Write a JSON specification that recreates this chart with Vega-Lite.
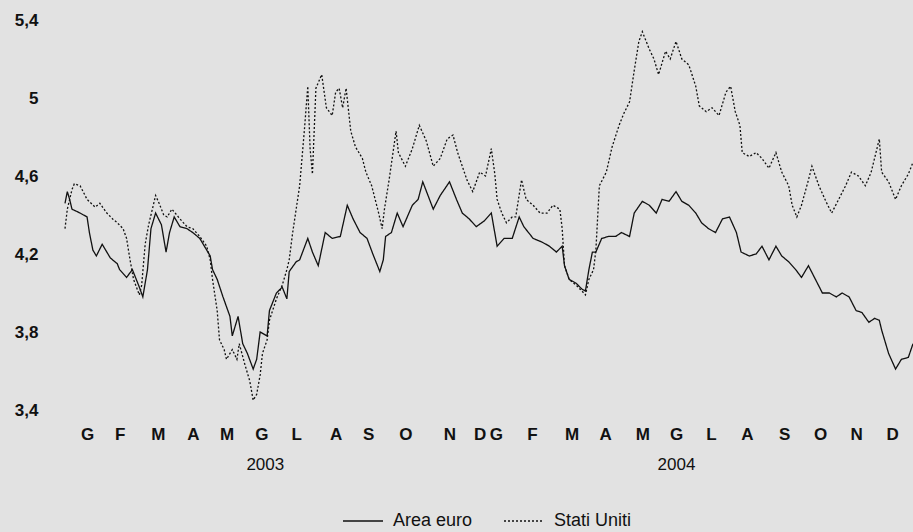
{
"$schema": "https://vega.github.io/schema/vega-lite/v6.json",
"width": 848, "height": 390,
"autosize": {"type": "none"},
"padding": {"left": 65, "top": 20, "right": 0, "bottom": 122},
"background": "#e2e2e2",
"config": {"view": {"stroke": null}, "font": "Liberation Sans"},
"data": {"values": [
{"date":"2003-01-01","series":"Area euro","yield":4.46},{"date":"2003-01-03","series":"Area euro","yield":4.52},{"date":"2003-01-05","series":"Area euro","yield":4.48},{"date":"2003-01-07","series":"Area euro","yield":4.43},{"date":"2003-01-14","series":"Area euro","yield":4.41},{"date":"2003-01-20","series":"Area euro","yield":4.39},{"date":"2003-01-22","series":"Area euro","yield":4.31},{"date":"2003-01-25","series":"Area euro","yield":4.22},{"date":"2003-01-28","series":"Area euro","yield":4.19},{"date":"2003-02-02","series":"Area euro","yield":4.25},{"date":"2003-02-05","series":"Area euro","yield":4.22},{"date":"2003-02-09","series":"Area euro","yield":4.18},{"date":"2003-02-15","series":"Area euro","yield":4.15},{"date":"2003-02-17","series":"Area euro","yield":4.12},{"date":"2003-02-23","series":"Area euro","yield":4.08},{"date":"2003-02-28","series":"Area euro","yield":4.12},{"date":"2003-03-06","series":"Area euro","yield":4.03},{"date":"2003-03-09","series":"Area euro","yield":3.98},{"date":"2003-03-13","series":"Area euro","yield":4.12},{"date":"2003-03-16","series":"Area euro","yield":4.33},{"date":"2003-03-20","series":"Area euro","yield":4.41},{"date":"2003-03-25","series":"Area euro","yield":4.35},{"date":"2003-03-29","series":"Area euro","yield":4.21},{"date":"2003-04-01","series":"Area euro","yield":4.31},{"date":"2003-04-05","series":"Area euro","yield":4.39},{"date":"2003-04-10","series":"Area euro","yield":4.34},{"date":"2003-04-16","series":"Area euro","yield":4.33},{"date":"2003-04-21","series":"Area euro","yield":4.31},{"date":"2003-04-27","series":"Area euro","yield":4.28},{"date":"2003-05-03","series":"Area euro","yield":4.22},{"date":"2003-05-06","series":"Area euro","yield":4.19},{"date":"2003-05-08","series":"Area euro","yield":4.12},{"date":"2003-05-12","series":"Area euro","yield":4.07},{"date":"2003-05-17","series":"Area euro","yield":3.98},{"date":"2003-05-23","series":"Area euro","yield":3.88},{"date":"2003-05-25","series":"Area euro","yield":3.78},{"date":"2003-05-30","series":"Area euro","yield":3.88},{"date":"2003-06-03","series":"Area euro","yield":3.74},{"date":"2003-06-07","series":"Area euro","yield":3.69},{"date":"2003-06-12","series":"Area euro","yield":3.61},{"date":"2003-06-15","series":"Area euro","yield":3.66},{"date":"2003-06-18","series":"Area euro","yield":3.80},{"date":"2003-06-24","series":"Area euro","yield":3.78},{"date":"2003-06-26","series":"Area euro","yield":3.91},{"date":"2003-07-02","series":"Area euro","yield":4.00},{"date":"2003-07-07","series":"Area euro","yield":4.03},{"date":"2003-07-11","series":"Area euro","yield":3.97},{"date":"2003-07-13","series":"Area euro","yield":4.11},{"date":"2003-07-19","series":"Area euro","yield":4.16},{"date":"2003-07-22","series":"Area euro","yield":4.17},{"date":"2003-07-29","series":"Area euro","yield":4.28},{"date":"2003-08-02","series":"Area euro","yield":4.21},{"date":"2003-08-07","series":"Area euro","yield":4.14},{"date":"2003-08-13","series":"Area euro","yield":4.31},{"date":"2003-08-19","series":"Area euro","yield":4.28},{"date":"2003-08-26","series":"Area euro","yield":4.29},{"date":"2003-09-01","series":"Area euro","yield":4.45},{"date":"2003-09-06","series":"Area euro","yield":4.38},{"date":"2003-09-12","series":"Area euro","yield":4.31},{"date":"2003-09-18","series":"Area euro","yield":4.28},{"date":"2003-09-23","series":"Area euro","yield":4.20},{"date":"2003-09-29","series":"Area euro","yield":4.11},{"date":"2003-10-02","series":"Area euro","yield":4.17},{"date":"2003-10-04","series":"Area euro","yield":4.29},{"date":"2003-10-09","series":"Area euro","yield":4.31},{"date":"2003-10-14","series":"Area euro","yield":4.41},{"date":"2003-10-19","series":"Area euro","yield":4.34},{"date":"2003-10-27","series":"Area euro","yield":4.45},{"date":"2003-11-01","series":"Area euro","yield":4.48},{"date":"2003-11-05","series":"Area euro","yield":4.57},{"date":"2003-11-14","series":"Area euro","yield":4.43},{"date":"2003-11-20","series":"Area euro","yield":4.50},{"date":"2003-11-28","series":"Area euro","yield":4.57},{"date":"2003-12-04","series":"Area euro","yield":4.48},{"date":"2003-12-09","series":"Area euro","yield":4.41},{"date":"2003-12-15","series":"Area euro","yield":4.38},{"date":"2003-12-21","series":"Area euro","yield":4.34},{"date":"2003-12-28","series":"Area euro","yield":4.37},{"date":"2004-01-03","series":"Area euro","yield":4.41},{"date":"2004-01-08","series":"Area euro","yield":4.24},{"date":"2004-01-14","series":"Area euro","yield":4.28},{"date":"2004-01-21","series":"Area euro","yield":4.28},{"date":"2004-01-27","series":"Area euro","yield":4.39},{"date":"2004-01-31","series":"Area euro","yield":4.34},{"date":"2004-02-08","series":"Area euro","yield":4.28},{"date":"2004-02-16","series":"Area euro","yield":4.26},{"date":"2004-02-22","series":"Area euro","yield":4.24},{"date":"2004-02-28","series":"Area euro","yield":4.21},{"date":"2004-03-04","series":"Area euro","yield":4.24},{"date":"2004-03-06","series":"Area euro","yield":4.14},{"date":"2004-03-10","series":"Area euro","yield":4.07},{"date":"2004-03-16","series":"Area euro","yield":4.05},{"date":"2004-03-21","series":"Area euro","yield":4.02},{"date":"2004-03-24","series":"Area euro","yield":4.01},{"date":"2004-03-27","series":"Area euro","yield":4.12},{"date":"2004-03-30","series":"Area euro","yield":4.21},{"date":"2004-04-02","series":"Area euro","yield":4.21},{"date":"2004-04-07","series":"Area euro","yield":4.28},{"date":"2004-04-13","series":"Area euro","yield":4.29},{"date":"2004-04-19","series":"Area euro","yield":4.29},{"date":"2004-04-24","series":"Area euro","yield":4.31},{"date":"2004-05-01","series":"Area euro","yield":4.29},{"date":"2004-05-05","series":"Area euro","yield":4.41},{"date":"2004-05-12","series":"Area euro","yield":4.47},{"date":"2004-05-18","series":"Area euro","yield":4.45},{"date":"2004-05-24","series":"Area euro","yield":4.41},{"date":"2004-05-29","series":"Area euro","yield":4.48},{"date":"2004-06-04","series":"Area euro","yield":4.47},{"date":"2004-06-10","series":"Area euro","yield":4.52},{"date":"2004-06-15","series":"Area euro","yield":4.47},{"date":"2004-06-21","series":"Area euro","yield":4.45},{"date":"2004-06-27","series":"Area euro","yield":4.41},{"date":"2004-07-02","series":"Area euro","yield":4.36},{"date":"2004-07-08","series":"Area euro","yield":4.33},{"date":"2004-07-14","series":"Area euro","yield":4.31},{"date":"2004-07-20","series":"Area euro","yield":4.38},{"date":"2004-07-26","series":"Area euro","yield":4.39},{"date":"2004-08-01","series":"Area euro","yield":4.31},{"date":"2004-08-05","series":"Area euro","yield":4.21},{"date":"2004-08-12","series":"Area euro","yield":4.19},{"date":"2004-08-18","series":"Area euro","yield":4.20},{"date":"2004-08-23","series":"Area euro","yield":4.24},{"date":"2004-08-29","series":"Area euro","yield":4.17},{"date":"2004-09-04","series":"Area euro","yield":4.24},{"date":"2004-09-09","series":"Area euro","yield":4.19},{"date":"2004-09-15","series":"Area euro","yield":4.16},{"date":"2004-09-21","series":"Area euro","yield":4.12},{"date":"2004-09-26","series":"Area euro","yield":4.08},{"date":"2004-10-02","series":"Area euro","yield":4.14},{"date":"2004-10-08","series":"Area euro","yield":4.07},{"date":"2004-10-14","series":"Area euro","yield":4.00},{"date":"2004-10-20","series":"Area euro","yield":4.00},{"date":"2004-10-26","series":"Area euro","yield":3.98},{"date":"2004-10-31","series":"Area euro","yield":4.00},{"date":"2004-11-06","series":"Area euro","yield":3.98},{"date":"2004-11-12","series":"Area euro","yield":3.91},{"date":"2004-11-17","series":"Area euro","yield":3.90},{"date":"2004-11-23","series":"Area euro","yield":3.85},{"date":"2004-11-28","series":"Area euro","yield":3.87},{"date":"2004-12-02","series":"Area euro","yield":3.86},{"date":"2004-12-04","series":"Area euro","yield":3.81},{"date":"2004-12-10","series":"Area euro","yield":3.69},{"date":"2004-12-16","series":"Area euro","yield":3.61},{"date":"2004-12-21","series":"Area euro","yield":3.66},{"date":"2004-12-27","series":"Area euro","yield":3.67},{"date":"2004-12-31","series":"Area euro","yield":3.74},
{"date":"2003-01-01","series":"Stati Uniti","yield":4.33},{"date":"2003-01-03","series":"Stati Uniti","yield":4.43},{"date":"2003-01-07","series":"Stati Uniti","yield":4.53},{"date":"2003-01-09","series":"Stati Uniti","yield":4.56},{"date":"2003-01-14","series":"Stati Uniti","yield":4.55},{"date":"2003-01-20","series":"Stati Uniti","yield":4.48},{"date":"2003-01-27","series":"Stati Uniti","yield":4.44},{"date":"2003-01-31","series":"Stati Uniti","yield":4.46},{"date":"2003-02-06","series":"Stati Uniti","yield":4.41},{"date":"2003-02-11","series":"Stati Uniti","yield":4.38},{"date":"2003-02-15","series":"Stati Uniti","yield":4.36},{"date":"2003-02-20","series":"Stati Uniti","yield":4.33},{"date":"2003-02-23","series":"Stati Uniti","yield":4.28},{"date":"2003-02-26","series":"Stati Uniti","yield":4.17},{"date":"2003-03-01","series":"Stati Uniti","yield":4.07},{"date":"2003-03-06","series":"Stati Uniti","yield":3.99},{"date":"2003-03-08","series":"Stati Uniti","yield":4.04},{"date":"2003-03-11","series":"Stati Uniti","yield":4.25},{"date":"2003-03-14","series":"Stati Uniti","yield":4.35},{"date":"2003-03-20","series":"Stati Uniti","yield":4.50},{"date":"2003-03-23","series":"Stati Uniti","yield":4.46},{"date":"2003-03-27","series":"Stati Uniti","yield":4.40},{"date":"2003-03-30","series":"Stati Uniti","yield":4.39},{"date":"2003-04-03","series":"Stati Uniti","yield":4.43},{"date":"2003-04-10","series":"Stati Uniti","yield":4.38},{"date":"2003-04-16","series":"Stati Uniti","yield":4.34},{"date":"2003-04-21","series":"Stati Uniti","yield":4.33},{"date":"2003-04-27","series":"Stati Uniti","yield":4.29},{"date":"2003-05-03","series":"Stati Uniti","yield":4.24},{"date":"2003-05-06","series":"Stati Uniti","yield":4.17},{"date":"2003-05-08","series":"Stati Uniti","yield":4.07},{"date":"2003-05-12","series":"Stati Uniti","yield":3.91},{"date":"2003-05-14","series":"Stati Uniti","yield":3.76},{"date":"2003-05-18","series":"Stati Uniti","yield":3.71},{"date":"2003-05-20","series":"Stati Uniti","yield":3.66},{"date":"2003-05-25","series":"Stati Uniti","yield":3.71},{"date":"2003-05-29","series":"Stati Uniti","yield":3.66},{"date":"2003-05-31","series":"Stati Uniti","yield":3.74},{"date":"2003-06-05","series":"Stati Uniti","yield":3.63},{"date":"2003-06-09","series":"Stati Uniti","yield":3.55},{"date":"2003-06-12","series":"Stati Uniti","yield":3.45},{"date":"2003-06-15","series":"Stati Uniti","yield":3.48},{"date":"2003-06-18","series":"Stati Uniti","yield":3.58},{"date":"2003-06-20","series":"Stati Uniti","yield":3.69},{"date":"2003-06-24","series":"Stati Uniti","yield":3.76},{"date":"2003-06-26","series":"Stati Uniti","yield":3.86},{"date":"2003-07-02","series":"Stati Uniti","yield":3.97},{"date":"2003-07-07","series":"Stati Uniti","yield":4.04},{"date":"2003-07-11","series":"Stati Uniti","yield":4.12},{"date":"2003-07-13","series":"Stati Uniti","yield":4.17},{"date":"2003-07-16","series":"Stati Uniti","yield":4.31},{"date":"2003-07-19","series":"Stati Uniti","yield":4.43},{"date":"2003-07-22","series":"Stati Uniti","yield":4.55},{"date":"2003-07-26","series":"Stati Uniti","yield":4.83},{"date":"2003-07-29","series":"Stati Uniti","yield":5.06},{"date":"2003-07-31","series":"Stati Uniti","yield":4.74},{"date":"2003-08-02","series":"Stati Uniti","yield":4.61},{"date":"2003-08-05","series":"Stati Uniti","yield":5.05},{"date":"2003-08-10","series":"Stati Uniti","yield":5.12},{"date":"2003-08-14","series":"Stati Uniti","yield":4.95},{"date":"2003-08-19","series":"Stati Uniti","yield":4.91},{"date":"2003-08-22","series":"Stati Uniti","yield":5.03},{"date":"2003-08-25","series":"Stati Uniti","yield":5.05},{"date":"2003-08-28","series":"Stati Uniti","yield":4.95},{"date":"2003-08-31","series":"Stati Uniti","yield":5.05},{"date":"2003-09-04","series":"Stati Uniti","yield":4.83},{"date":"2003-09-08","series":"Stati Uniti","yield":4.75},{"date":"2003-09-14","series":"Stati Uniti","yield":4.69},{"date":"2003-09-17","series":"Stati Uniti","yield":4.62},{"date":"2003-09-22","series":"Stati Uniti","yield":4.55},{"date":"2003-09-28","series":"Stati Uniti","yield":4.41},{"date":"2003-10-01","series":"Stati Uniti","yield":4.33},{"date":"2003-10-03","series":"Stati Uniti","yield":4.43},{"date":"2003-10-07","series":"Stati Uniti","yield":4.58},{"date":"2003-10-13","series":"Stati Uniti","yield":4.83},{"date":"2003-10-15","series":"Stati Uniti","yield":4.72},{"date":"2003-10-21","series":"Stati Uniti","yield":4.65},{"date":"2003-10-27","series":"Stati Uniti","yield":4.74},{"date":"2003-11-02","series":"Stati Uniti","yield":4.86},{"date":"2003-11-08","series":"Stati Uniti","yield":4.78},{"date":"2003-11-14","series":"Stati Uniti","yield":4.65},{"date":"2003-11-20","series":"Stati Uniti","yield":4.69},{"date":"2003-11-26","series":"Stati Uniti","yield":4.79},{"date":"2003-12-01","series":"Stati Uniti","yield":4.81},{"date":"2003-12-05","series":"Stati Uniti","yield":4.72},{"date":"2003-12-09","series":"Stati Uniti","yield":4.65},{"date":"2003-12-13","series":"Stati Uniti","yield":4.58},{"date":"2003-12-18","series":"Stati Uniti","yield":4.52},{"date":"2003-12-24","series":"Stati Uniti","yield":4.62},{"date":"2003-12-29","series":"Stati Uniti","yield":4.60},{"date":"2004-01-03","series":"Stati Uniti","yield":4.74},{"date":"2004-01-06","series":"Stati Uniti","yield":4.61},{"date":"2004-01-08","series":"Stati Uniti","yield":4.48},{"date":"2004-01-12","series":"Stati Uniti","yield":4.41},{"date":"2004-01-16","series":"Stati Uniti","yield":4.36},{"date":"2004-01-21","series":"Stati Uniti","yield":4.39},{"date":"2004-01-24","series":"Stati Uniti","yield":4.39},{"date":"2004-01-29","series":"Stati Uniti","yield":4.58},{"date":"2004-02-02","series":"Stati Uniti","yield":4.48},{"date":"2004-02-08","series":"Stati Uniti","yield":4.45},{"date":"2004-02-14","series":"Stati Uniti","yield":4.41},{"date":"2004-02-20","series":"Stati Uniti","yield":4.41},{"date":"2004-02-25","series":"Stati Uniti","yield":4.45},{"date":"2004-03-02","series":"Stati Uniti","yield":4.43},{"date":"2004-03-04","series":"Stati Uniti","yield":4.33},{"date":"2004-03-06","series":"Stati Uniti","yield":4.14},{"date":"2004-03-10","series":"Stati Uniti","yield":4.07},{"date":"2004-03-16","series":"Stati Uniti","yield":4.04},{"date":"2004-03-21","series":"Stati Uniti","yield":4.01},{"date":"2004-03-24","series":"Stati Uniti","yield":3.99},{"date":"2004-03-27","series":"Stati Uniti","yield":4.07},{"date":"2004-03-31","series":"Stati Uniti","yield":4.12},{"date":"2004-04-02","series":"Stati Uniti","yield":4.22},{"date":"2004-04-05","series":"Stati Uniti","yield":4.55},{"date":"2004-04-11","series":"Stati Uniti","yield":4.62},{"date":"2004-04-16","series":"Stati Uniti","yield":4.75},{"date":"2004-04-22","series":"Stati Uniti","yield":4.86},{"date":"2004-04-26","series":"Stati Uniti","yield":4.92},{"date":"2004-05-01","series":"Stati Uniti","yield":4.98},{"date":"2004-05-05","series":"Stati Uniti","yield":5.14},{"date":"2004-05-09","series":"Stati Uniti","yield":5.29},{"date":"2004-05-12","series":"Stati Uniti","yield":5.34},{"date":"2004-05-18","series":"Stati Uniti","yield":5.25},{"date":"2004-05-22","series":"Stati Uniti","yield":5.20},{"date":"2004-05-26","series":"Stati Uniti","yield":5.12},{"date":"2004-06-01","series":"Stati Uniti","yield":5.24},{"date":"2004-06-05","series":"Stati Uniti","yield":5.20},{"date":"2004-06-10","series":"Stati Uniti","yield":5.29},{"date":"2004-06-15","series":"Stati Uniti","yield":5.20},{"date":"2004-06-21","series":"Stati Uniti","yield":5.17},{"date":"2004-06-27","series":"Stati Uniti","yield":5.06},{"date":"2004-06-30","series":"Stati Uniti","yield":4.96},{"date":"2004-07-06","series":"Stati Uniti","yield":4.93},{"date":"2004-07-11","series":"Stati Uniti","yield":4.95},{"date":"2004-07-17","series":"Stati Uniti","yield":4.91},{"date":"2004-07-23","series":"Stati Uniti","yield":5.03},{"date":"2004-07-27","series":"Stati Uniti","yield":5.06},{"date":"2004-07-31","series":"Stati Uniti","yield":4.93},{"date":"2004-08-04","series":"Stati Uniti","yield":4.86},{"date":"2004-08-06","series":"Stati Uniti","yield":4.72},{"date":"2004-08-12","series":"Stati Uniti","yield":4.70},{"date":"2004-08-18","series":"Stati Uniti","yield":4.72},{"date":"2004-08-23","series":"Stati Uniti","yield":4.69},{"date":"2004-08-29","series":"Stati Uniti","yield":4.64},{"date":"2004-09-04","series":"Stati Uniti","yield":4.72},{"date":"2004-09-09","series":"Stati Uniti","yield":4.62},{"date":"2004-09-15","series":"Stati Uniti","yield":4.55},{"date":"2004-09-18","series":"Stati Uniti","yield":4.45},{"date":"2004-09-22","series":"Stati Uniti","yield":4.39},{"date":"2004-09-26","series":"Stati Uniti","yield":4.45},{"date":"2004-10-02","series":"Stati Uniti","yield":4.58},{"date":"2004-10-05","series":"Stati Uniti","yield":4.65},{"date":"2004-10-11","series":"Stati Uniti","yield":4.55},{"date":"2004-10-17","series":"Stati Uniti","yield":4.47},{"date":"2004-10-22","series":"Stati Uniti","yield":4.41},{"date":"2004-10-28","series":"Stati Uniti","yield":4.48},{"date":"2004-11-03","series":"Stati Uniti","yield":4.55},{"date":"2004-11-08","series":"Stati Uniti","yield":4.62},{"date":"2004-11-14","series":"Stati Uniti","yield":4.60},{"date":"2004-11-20","series":"Stati Uniti","yield":4.55},{"date":"2004-11-25","series":"Stati Uniti","yield":4.62},{"date":"2004-12-02","series":"Stati Uniti","yield":4.79},{"date":"2004-12-04","series":"Stati Uniti","yield":4.62},{"date":"2004-12-10","series":"Stati Uniti","yield":4.57},{"date":"2004-12-16","series":"Stati Uniti","yield":4.48},{"date":"2004-12-21","series":"Stati Uniti","yield":4.55},{"date":"2004-12-27","series":"Stati Uniti","yield":4.61},{"date":"2004-12-31","series":"Stati Uniti","yield":4.67}
]},
"encoding": {
  "y": {"field": "yield", "type": "quantitative",
    "scale": {"domain": [3.4, 5.4], "zero": false, "nice": false},
    "axis": {"title": null, "values": [3.4, 3.8, 4.2, 4.6, 5, 5.4],
      "labelExpr": "replace(format(datum.value, '.1~f'), '.', ',')",
      "ticks": false, "domain": false, "grid": false, "labelFlush": false,
      "labelPadding": 27, "labelFontSize": 17, "labelFontWeight": "bold",
      "labelColor": "#111111", "labelFont": "Liberation Sans"}},
  "strokeDash": {"field": "series", "type": "nominal",
    "scale": {"domain": ["Area euro", "Stati Uniti"], "range": [[1, 0], [2, 2]]},
    "legend": {"title": null, "orient": "none", "legendX": 277, "legendY": 480,
      "direction": "horizontal", "symbolType": "stroke", "symbolSize": 1600,
      "symbolStrokeWidth": 1.3, "symbolStrokeColor": "#111111",
      "labelFontSize": 18, "labelFont": "Liberation Sans", "labelColor": "#111111",
      "labelOffset": 9, "columnPadding": 28, "padding": 0}}
},
"layer": [
  {"transform": [{"filter": "datum.series == 'Area euro'"}],
   "mark": {"type": "line", "color": "#111111", "strokeWidth": 1.3},
   "encoding": {"x": {"field": "date", "type": "temporal",
     "scale": {"type": "utc", "domain": [{"year": 2003, "month": 1, "date": 1, "utc": true}, {"year": 2004, "month": 12, "date": 31, "utc": true}]},
     "axis": {"title": null, "orient": "bottom", "ticks": false, "domain": false, "grid": false,
       "labelOverlap": false, "labelFlush": false, "labelBound": false,
       "values": [
         {"year": 2003, "month": 1, "date": 20, "utc": true},
         {"year": 2003, "month": 2, "date": 17, "utc": true},
         {"year": 2003, "month": 3, "date": 22, "utc": true},
         {"year": 2003, "month": 4, "date": 21, "utc": true},
         {"year": 2003, "month": 5, "date": 20, "utc": true},
         {"year": 2003, "month": 6, "date": 19, "utc": true},
         {"year": 2003, "month": 7, "date": 19, "utc": true},
         {"year": 2003, "month": 8, "date": 22, "utc": true},
         {"year": 2003, "month": 9, "date": 19, "utc": true},
         {"year": 2003, "month": 10, "date": 21, "utc": true},
         {"year": 2003, "month": 11, "date": 28, "utc": true},
         {"year": 2003, "month": 12, "date": 24, "utc": true},
         {"year": 2004, "month": 1, "date": 7, "utc": true},
         {"year": 2004, "month": 2, "date": 7, "utc": true},
         {"year": 2004, "month": 3, "date": 12, "utc": true},
         {"year": 2004, "month": 4, "date": 10, "utc": true},
         {"year": 2004, "month": 5, "date": 12, "utc": true},
         {"year": 2004, "month": 6, "date": 10, "utc": true},
         {"year": 2004, "month": 7, "date": 10, "utc": true},
         {"year": 2004, "month": 8, "date": 10, "utc": true},
         {"year": 2004, "month": 9, "date": 11, "utc": true},
         {"year": 2004, "month": 10, "date": 12, "utc": true},
         {"year": 2004, "month": 11, "date": 12, "utc": true},
         {"year": 2004, "month": 12, "date": 13, "utc": true}
       ],
       "labelExpr": "['G','F','M','A','M','G','L','A','S','O','N','D'][utcmonth(datum.value)]",
       "labelPadding": 16, "labelFontSize": 17, "labelFontWeight": "bold",
       "labelColor": "#111111", "labelFont": "Liberation Sans"}}}},
  {"transform": [{"filter": "datum.series == 'Stati Uniti'"}],
   "mark": {"type": "line", "color": "#111111", "strokeWidth": 1.3},
   "encoding": {"x": {"field": "date", "type": "temporal",
     "scale": {"type": "utc", "domain": [{"year": 2003, "month": 1, "date": 1, "utc": true}, {"year": 2004, "month": 12, "date": 31, "utc": true}]},
     "axis": {"title": null, "orient": "bottom", "ticks": false, "domain": false, "grid": false,
       "labelOverlap": false, "labelFlush": false, "labelBound": false,
       "values": [
         {"year": 2003, "month": 6, "date": 22, "utc": true},
         {"year": 2004, "month": 6, "date": 10, "utc": true}
       ],
       "labelExpr": "'' + utcyear(datum.value)",
       "labelPadding": 46, "labelFontSize": 17, "labelFontWeight": "normal",
       "labelColor": "#111111", "labelFont": "Liberation Sans"}}}}
],
"resolve": {"axis": {"x": "independent"}}
}
